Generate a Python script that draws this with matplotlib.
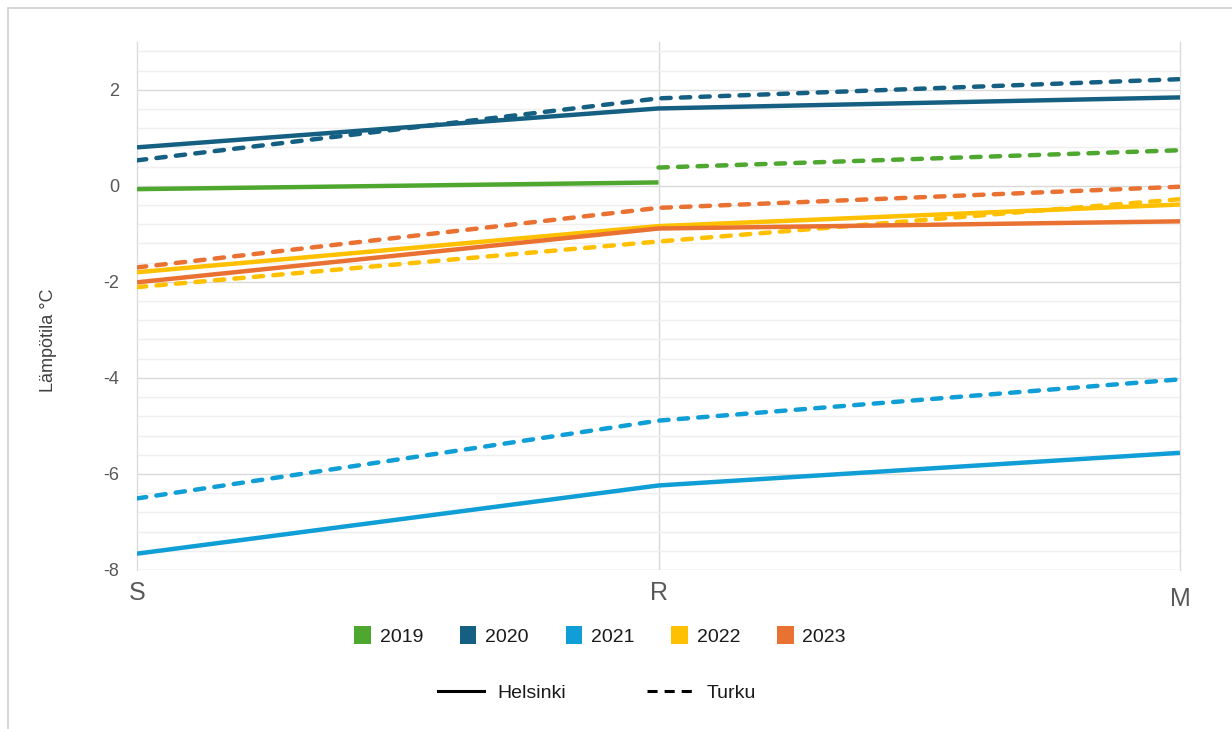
import numpy as np
import matplotlib.pyplot as plt
from matplotlib.patches import Patch, Rectangle
from matplotlib.lines import Line2D
from matplotlib.transforms import ScaledTranslation

# Categories and series (NaN = no value)
categories = ['S', 'R', 'M']
years = ['2019', '2020', '2021', '2022', '2023']
colors = ['#4EA72E', '#156082', '#0F9ED5', '#FFC000', '#E97132']

helsinki = {
    '2019': [-0.07, 0.07, np.nan],
    '2020': [0.80, 1.61, 1.84],
    '2021': [-7.66, -6.24, -5.56],
    '2022': [-1.80, -0.84, -0.39],
    '2023': [-2.01, -0.89, -0.74],
}
turku = {
    '2019': [np.nan, 0.38, 0.74],
    '2020': [0.53, 1.82, 2.22],
    '2021': [-6.51, -4.89, -4.03],
    '2022': [-2.11, -1.16, -0.28],
    '2023': [-1.70, -0.46, -0.02],
}

plt.rcParams['font.family'] = ['Liberation Sans', 'DejaVu Sans']

fig = plt.figure(figsize=(12.32, 7.29), dpi=100)
ax = fig.add_axes([137/1232, 1 - 570/729, (1180 - 137)/1232, (570 - 41.7)/729])

x = np.arange(len(categories))
lw = 3.2
for yr, c in zip(years, colors):
    ax.plot(x, helsinki[yr], color=c, lw=lw, solid_capstyle='butt', zorder=3)
    ax.plot(x, turku[yr], color=c, lw=lw, linestyle=(0, (2.1, 2.3)),
            dash_capstyle='round', zorder=3)

ax.set_xlim(0, 2)
ax.set_ylim(-8, 3)
ax.set_yticks([-8, -6, -4, -2, 0, 2])
ax.set_yticklabels(['-8', '-6', '-4', '-2', '0', '2'])
ax.set_yticks(np.arange(-8, 3, 0.4), minor=True)
ax.tick_params(axis='y', which='both', length=0, pad=13, labelsize=13, labelcolor='#595959')
ax.set_xticks(x)
ax.set_xticklabels(categories)
ax.tick_params(axis='x', length=0, pad=8, labelsize=18, labelcolor='#595959')
lbl = ax.get_xticklabels()[-1]
lbl.set_transform(lbl.get_transform() + ScaledTranslation(0, -0.06, fig.dpi_scale_trans))

ax.grid(axis='y', which='minor', color='#EFEFEF', lw=1.0, zorder=0)
ax.grid(axis='y', which='major', color='#D9D9D9', lw=1.0, zorder=0)
ax.axvline(1, color='#D9D9D9', lw=1.0, zorder=0)
for s in ['top', 'bottom']:
    ax.spines[s].set_visible(False)
for s in ['left', 'right']:
    ax.spines[s].set_color('#DCDCDC')
    ax.spines[s].set_linewidth(1.0)

ax.set_ylabel('Lämpötila °C', fontsize=13, color='#404040')
ax.yaxis.set_label_coords(-0.077, 0.435)

# legends
year_handles = [Patch(facecolor=c, edgecolor='none') for c in colors]
leg1 = fig.legend(year_handles, years, loc='center', bbox_to_anchor=(600/1232, 1 - 636/729),
                  ncol=5, frameon=False, fontsize=14, handlelength=0.85, handleheight=1.05,
                  columnspacing=1.9, handletextpad=0.45)
city_handles = [Line2D([], [], color='black', lw=2.2),
                Line2D([], [], color='black', lw=2.2, linestyle=(0, (3.3, 2.3)))]
leg2 = fig.legend(city_handles, ['Helsinki', 'Turku'], loc='center',
                  bbox_to_anchor=(597/1232, 1 - 693/729), ncol=2, frameon=False,
                  fontsize=14, handlelength=2.35, columnspacing=4.15, handletextpad=0.72)
for t in leg1.get_texts() + leg2.get_texts():
    t.set_color('#1a1a1a')

# outer frame
fig.patches.append(Rectangle((8/1232, -0.01), 1.1, 1 - 8/729 + 0.01, transform=fig.transFigure,
                             fill=False, edgecolor='#D0D0D0', lw=1.2))

fig.savefig('out.png', dpi=100)
